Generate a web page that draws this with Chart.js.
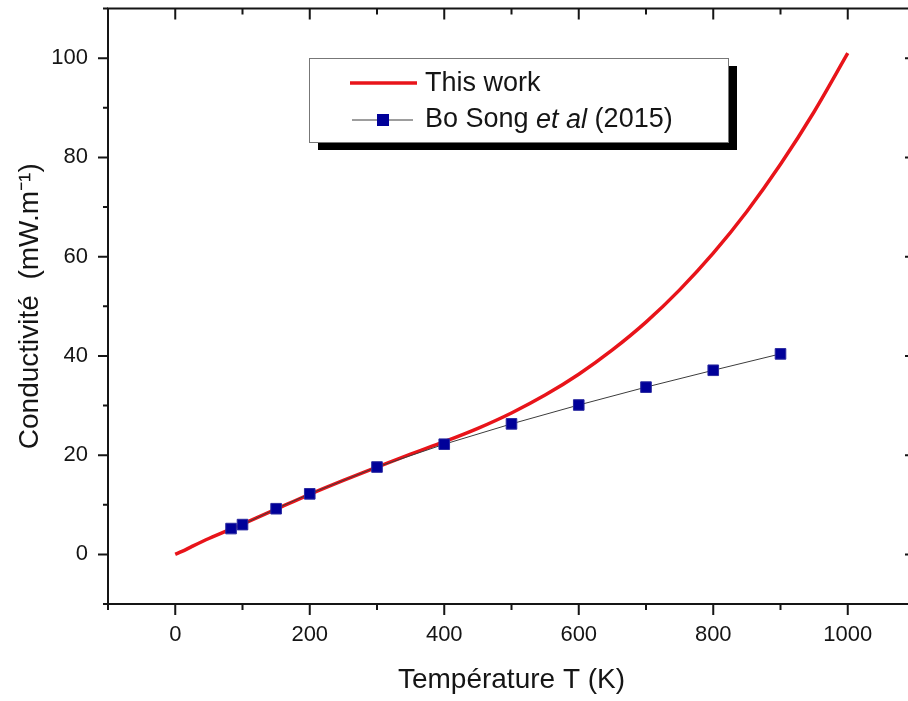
<!DOCTYPE html>
<html>
<head>
<meta charset="utf-8">
<script src="https://cdn.jsdelivr.net/npm/chart.js@4.4.1/dist/chart.umd.min.js"></script>
<style>
  html, body { margin: 0; padding: 0; background: #fff; overflow: hidden; }
  #wrap { width: 935px; height: 701px; position: relative; }
</style>
</head>
<body>
<div id="wrap"><canvas id="myChart"></canvas></div>
<script>
// "This work" curve
const tempWork = [0, 10, 25, 50, 100, 150, 200, 250, 300, 350, 400, 450, 500, 550, 600, 650, 700, 750, 800, 850, 900, 950, 1000];
const condWork = [0, 0.6, 1.6, 3.2, 6.1, 9.1, 12.1, 14.9, 17.6, 20.2, 22.7, 25.4, 28.5, 32.1, 36.3, 41.2, 46.8, 53.3, 60.7, 69.1, 78.6, 89.2, 101.0];

// Bo Song et al (2015)
const tempSong = [83, 100, 150, 200, 300, 400, 500, 600, 700, 800, 900];
const condSong = [5.2, 6.0, 9.2, 12.2, 17.6, 22.2, 26.3, 30.1, 33.7, 37.1, 40.4];

const xLabels = [0, 200, 400, 600, 800, 1000];
const yLabels = [0, 20, 40, 60, 80, 100];

const ctx = document.getElementById("myChart");
const ink = "#151515";

// axes box + inner/outer ticks like the original plot
const frame = {
    id: "frame",
    beforeDatasetsDraw(chart) {
        const { ctx, chartArea: a, scales: { x, y } } = chart;
        ctx.save();
        ctx.strokeStyle = ink;
        ctx.lineWidth = 2;
        ctx.strokeRect(a.left, a.top, a.right - a.left, a.bottom - a.top);
        x.ticks.forEach(t => {
            const px = x.getPixelForValue(t.value);
            const len = xLabels.includes(t.value) ? 11 : 6;
            ctx.beginPath();
            ctx.moveTo(px, a.bottom); ctx.lineTo(px, a.bottom + len);
            ctx.moveTo(px, a.top); ctx.lineTo(px, a.top + len);
            ctx.stroke();
        });
        y.ticks.forEach(t => {
            const py = y.getPixelForValue(t.value);
            const len = yLabels.includes(t.value) ? 10 : 5;
            ctx.beginPath();
            ctx.moveTo(a.left, py); ctx.lineTo(a.left - len, py);
            ctx.moveTo(a.right, py); ctx.lineTo(a.right - len, py);
            ctx.stroke();
        });
        ctx.restore();
    }
};

// boxed legend with drop shadow
const boxLegend = {
    id: "boxLegend",
    afterDraw(chart) {
        const { ctx } = chart;
        const [work, song] = chart.data.datasets;
        const bx = 309, by = 58, bw = 419, bh = 84;
        ctx.save();
        ctx.fillStyle = "#000";
        ctx.fillRect(bx + 9, by + 8, bw, bh);
        ctx.fillStyle = "#fff";
        ctx.fillRect(bx, by, bw, bh);
        ctx.strokeStyle = "#777";
        ctx.lineWidth = 1;
        ctx.strokeRect(bx + 0.5, by + 0.5, bw, bh);

        ctx.strokeStyle = work.borderColor;
        ctx.lineWidth = work.borderWidth;
        ctx.beginPath(); ctx.moveTo(350, 83); ctx.lineTo(417, 83); ctx.stroke();

        ctx.strokeStyle = song.borderColor;
        ctx.lineWidth = 1;
        ctx.beginPath(); ctx.moveTo(352, 120); ctx.lineTo(413, 120); ctx.stroke();
        ctx.fillStyle = song.pointBackgroundColor;
        ctx.fillRect(377, 114, 12, 12);

        ctx.fillStyle = ink;
        ctx.textBaseline = "middle";
        ctx.font = "27px 'Liberation Sans', Arial, sans-serif";
        ctx.fillText(work.label, 425, 84);

        const parts = song.label.split("et al");
        let tx = 425;
        ctx.fillText(parts[0], tx, 120);
        tx += ctx.measureText(parts[0]).width;
        ctx.font = "italic 27px 'Liberation Sans', Arial, sans-serif";
        ctx.fillText("et al", tx, 120);
        tx += ctx.measureText("et al").width;
        ctx.font = "27px 'Liberation Sans', Arial, sans-serif";
        ctx.fillText(parts[1], tx, 120);
        ctx.restore();
    }
};

const myChart = new Chart(ctx, {
    type: "line",
    data: {
        datasets: [
            {
                label: "This work",
                data: tempWork.map((t, i) => ({ x: t, y: condWork[i] })),
                borderColor: "#e8141a",
                borderWidth: 3.5,
                pointRadius: 0,
                cubicInterpolationMode: "monotone",
                order: 2
            },
            {
                label: "Bo Song et al (2015)",
                data: tempSong.map((t, i) => ({ x: t, y: condSong[i] })),
                borderColor: "#3c3c3c",
                borderWidth: 1,
                pointStyle: "rect",
                pointRadius: 7.5,
                pointBackgroundColor: "#000099",
                pointBorderColor: "#2a2aa0",
                pointBorderWidth: 1,
                order: 1
            }
        ]
    },
    options: {
        responsive: true,
        maintainAspectRatio: false,
        animation: false,
        layout: { padding: { top: 6, right: 20, bottom: 0, left: 0 } },
        plugins: { legend: { display: false }, tooltip: { enabled: false } },
        scales: {
            x: {
                type: "linear",
                min: -100,
                max: 1100,
                afterFit: s => { s.height = 97; s.paddingLeft = 0; s.paddingRight = 0; },
                grid: { display: false, drawTicks: false },
                border: { display: false },
                ticks: {
                    stepSize: 100,
                    autoSkip: false,
                    maxRotation: 0,
                    padding: 18,
                    color: ink,
                    font: { family: "'Liberation Sans', Arial, sans-serif", size: 22 },
                    callback: v => xLabels.includes(v) ? String(v) : ""
                },
                title: {
                    display: true,
                    text: "Température T (K)",
                    color: ink,
                    padding: { top: 0, bottom: 4 },
                    font: { family: "'Liberation Sans', Arial, sans-serif", size: 28 }
                }
            },
            y: {
                min: -10,
                max: 110,
                afterFit: s => { s.width = 108; s.paddingTop = 0; s.paddingBottom = 0; },
                grid: { display: false, drawTicks: false },
                border: { display: false },
                ticks: {
                    stepSize: 10,
                    autoSkip: false,
                    padding: 20,
                    color: ink,
                    font: { family: "'Liberation Sans', Arial, sans-serif", size: 22 },
                    callback: v => yLabels.includes(v) ? String(v) : ""
                },
                title: {
                    display: true,
                    text: "Conductivité  (mW.m⁻¹)",
                    color: ink,
                    padding: { top: 13, bottom: 0 },
                    font: { family: "'Liberation Sans', Arial, sans-serif", size: 28 }
                }
            }
        }
    },
    plugins: [frame, boxLegend]
});
</script>
</body>
</html>
